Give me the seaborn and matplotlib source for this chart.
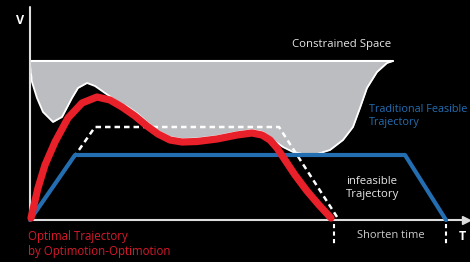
import numpy as np
import pandas as pd
import matplotlib
matplotlib.use('Agg')
import matplotlib.pyplot as plt
import seaborn as sns

# data: T (time) / V (velocity) in chart units, origin at the axis corner
red_t = [1, 8, 15, 25, 38, 52, 67, 80, 92, 105, 117, 128, 140, 152, 167, 187, 207, 222, 232, 240, 247, 255,
         265, 277, 289, 301]
red_v = [2, 32, 55, 78, 102, 117, 123, 120, 113, 104, 94, 86, 80, 78, 78.5, 81, 85, 87, 85, 80, 72, 60,
         45, 29, 15, 2]

space_t = [0, 2, 7, 13, 23, 32, 42, 48, 57, 65, 75, 88, 98, 108, 118, 128, 140, 152, 167, 187, 207, 222,
           233, 243, 253, 263, 273, 287, 300, 313, 323, 330, 337, 347, 357, 363]
space_low = [155, 138, 122, 108, 98, 103, 122, 132, 137, 134, 127, 118, 113, 106, 97, 89, 83, 81, 81.5, 84, 88, 90,
             88, 80, 73, 68, 66, 66, 70, 80, 93, 112, 132, 148, 157, 159]
space_top = 159

blue_t = [0, 45, 375, 416]
blue_v = [0, 65, 65, 0]

dash_t = [0, 65, 249, 309]
dash_v = [0, 93, 93, 0]

marks_t = [304, 416]

RED = '#e8202a'
BLUE = '#236db1'
GRAY = '#bcbdc0'

sns.set_style('dark', {'axes.facecolor': 'black', 'figure.facecolor': 'black'})
plt.rcParams['font.family'] = ['Open Sans', 'DejaVu Sans']

fig = plt.figure(figsize=(4.7, 2.62), dpi=100)
ax = fig.add_axes([0, 0, 1, 1])
ax.set_xlim(-30, 440)
ax.set_ylim(-42, 220)
ax.axis('off')

# constrained space
ax.fill_between(space_t, space_low, space_top, color=GRAY, lw=0, zorder=1)
ax.plot(space_t, space_low, color='white', lw=1.3, zorder=2, solid_joinstyle='round')
ax.plot([0, space_t[-1]], [space_top, space_top], color='white', lw=1.5, zorder=2)

# axes
ax.plot([0, 0], [0, 213], color='#dddddd', lw=1.5, zorder=2)
ax.plot([0, 434], [0, 0], color='#dddddd', lw=1.5, zorder=2)
ax.plot([436], [0], marker='>', color='#dddddd', markersize=6, zorder=2)

# trajectories
sns.lineplot(x=dash_t, y=dash_v, sort=False, color='white', lw=1.8, linestyle=(0, (2.2, 1.6)), ax=ax, zorder=3)
sns.lineplot(x=blue_t, y=blue_v, sort=False, color=BLUE, lw=3, ax=ax, zorder=4)
sns.lineplot(x=red_t, y=red_v, sort=False, color=RED, lw=5.2, ax=ax, zorder=5,
             solid_joinstyle='round', solid_capstyle='round')

for t in marks_t:
    ax.plot([t, t], [-4, -24], color='white', lw=1.5, linestyle=(0, (2, 1.6)), zorder=3)

# labels
ax.text(-10, 200, 'V', color='white', fontsize=9, fontweight='bold', ha='center', va='center')
ax.text(432, -17, 'T', color='white', fontsize=9, fontweight='bold', ha='center', va='center')
ax.text(312, 176, 'Constrained Space', color='#e6e6e6', fontsize=8.2, ha='center', va='center')
ax.text(339, 104, 'Traditional Feasible\nTrajectory', color=BLUE, fontsize=7.8, ha='left', va='center',
        linespacing=1.2)
ax.text(316, 32, 'infeasible\nTrajectory', color='#e6e6e6', fontsize=8.2, ha='left', va='center',
        linespacing=1.2)
ax.text(327, -16, 'Shorten time', color='#cccccc', fontsize=8, ha='left', va='center')
ax.text(-2, -24, 'Optimal Trajectory\nby Optimotion-Optimotion', color='#d7192b', fontsize=8.3,
        ha='left', va='center', linespacing=1.2)

fig.savefig('out.png', dpi=100, facecolor='black')
